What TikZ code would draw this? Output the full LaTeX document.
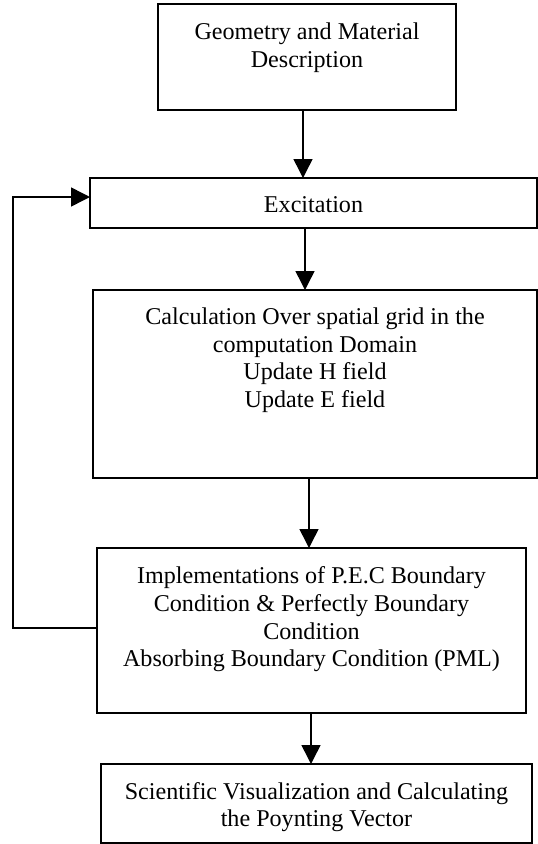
\documentclass[tikz,border=0pt]{standalone}
\usepackage{fontspec}
\setmainfont{Liberation Serif}
\usetikzlibrary{arrows.meta,calc}
\begin{document}
\begin{tikzpicture}[x=1pt,y=1pt,
  box/.style={draw, line width=1.5pt, inner sep=0pt, outer sep=0pt},
  lbl/.style={font=\fontsize{24.1}{27.7}\selectfont, align=center, inner sep=0pt, anchor=north},
  arr/.style={line width=1.5pt, line join=miter, -{Triangle[length=19pt,width=19pt]}}]
\useasboundingbox (0,0) rectangle (538,-844);
% boxes
\node[box, minimum width=298pt, minimum height=106pt] (b1) at (307,-57) {};
\node[box, minimum width=447pt, minimum height=50pt] (b2) at (313.5,-203) {};
\node[box, minimum width=444pt, minimum height=188pt] (b3) at (315,-384) {};
\node[box, minimum width=429pt, minimum height=165pt] (b4) at (311.5,-630.5) {};
\node[box, minimum width=431pt, minimum height=79pt] (b5) at (316.5,-803.5) {};
% texts
\node[lbl] (t1) at (307,-22.5) {Geometry and Material\\Description};
\node[lbl] (t2) at (313.5,-196.5) {Excitation};
\node[lbl] (t3) at (315,-307.5) {Calculation Over spatial grid in the\\computation Domain\\Update H field\\Update E field};
\node[lbl] (t4) at (311.5,-566.5) {Implementations of P.E.C Boundary\\Condition \& Perfectly Boundary\\Condition\\Absorbing Boundary Condition (PML)};
\node[lbl] (t5) at (316.5,-782) {Scientific Visualization and Calculating\\the Poynting Vector};
% helper coordinates
\coordinate (x1) at (303,0);
\coordinate (x2) at (305,0);
\coordinate (x3) at (309,0);
\coordinate (x4) at (311,0);
\coordinate (fbx) at (13,0);
\coordinate (fbyA) at (0,-628);
\coordinate (fbyB) at (0,-197);
% connectors
\draw[arr] (b1.south -| x1) -- (b2.north -| x1);
\draw[arr] (b2.south -| x2) -- (b3.north -| x2);
\draw[arr] (b3.south -| x3) -- (b4.north -| x3);
\draw[arr] (b4.south -| x4) -- (b5.north -| x4);
\draw[arr] (b4.west |- fbyA) -| (fbx |- fbyB) -- (b2.west |- fbyB);
\end{tikzpicture}
\end{document}
